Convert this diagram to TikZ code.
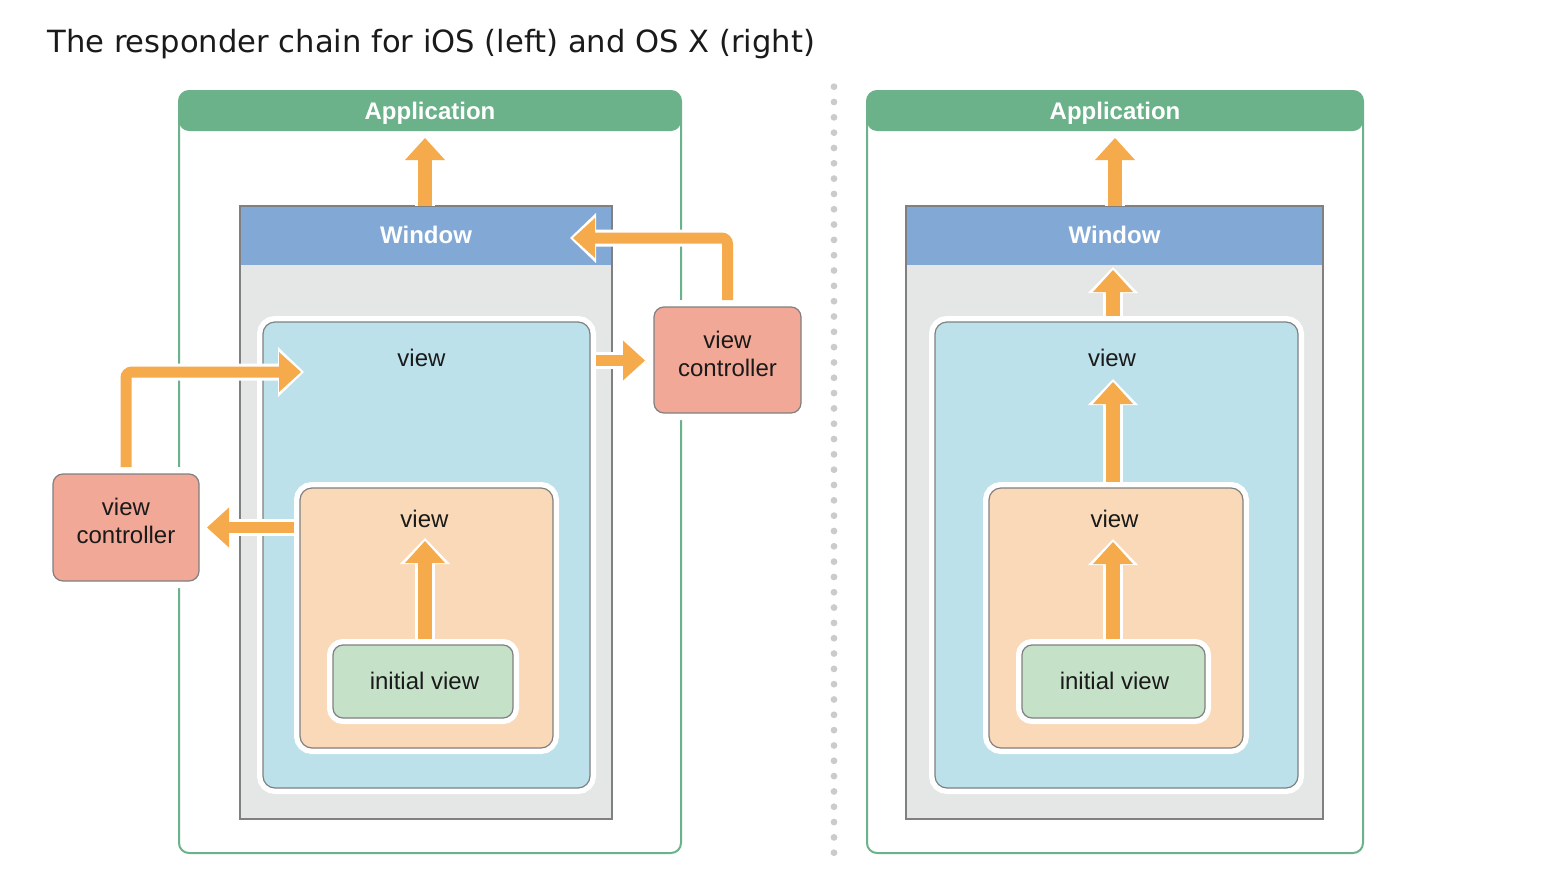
\documentclass[tikz,border=0pt]{standalone}
\usepackage{fontspec}
\setmainfont{Liberation Sans}
\newfontfamily\headfont{DejaVu Sans}
\usetikzlibrary{arrows.meta,fit}

\definecolor{appgreen}{HTML}{6BB28A}
\definecolor{winblue}{HTML}{82A9D6}
\definecolor{wingray}{HTML}{E5E6E6}
\definecolor{edgegray}{HTML}{808080}
\definecolor{viewblue}{HTML}{BCE1EB}
\definecolor{vieworange}{HTML}{FAD9B8}
\definecolor{initgreen}{HTML}{C5E2C9}
\definecolor{ctrlred}{HTML}{F2A896}
\definecolor{floworange}{HTML}{F5AA4B}
\definecolor{dotgray}{HTML}{CBCBCB}
\definecolor{ink}{HTML}{1A1A1A}

\tikzset{
  frame/.style={inner sep=0pt, outer sep=0pt},
  appbox/.style={frame, draw=appgreen, line width=1pt, rounded corners=5pt,
    path picture={\fill[appgreen] (path picture bounding box.north west)
      rectangle ([yshift=-20pt]path picture bounding box.north east);}},
  winbox/.style={frame, fill=wingray, draw=edgegray, line width=1pt,
    path picture={\fill[winblue] (path picture bounding box.north west)
      rectangle ([yshift=-29.5pt]path picture bounding box.north east);}},
  viewbox/.style={frame, draw=edgegray, line width=0.6pt, rounded corners=6pt,
    preaction={draw=white, line width=6pt}},
  ctrlbox/.style={frame, fill=ctrlred, draw=edgegray, line width=0.6pt,
    rounded corners=5pt, preaction={draw=white, line width=7pt}},
  lbl/.style={inner sep=0pt, text=ink, font=\fontsize{12}{14}\selectfont},
  bandlbl/.style={inner sep=0pt, anchor=base, text=white,
    font=\bfseries\fontsize{12}{14}\selectfont},
  flow/.style={preaction={draw=white, line width=10pt, shorten >=-1.5pt,
      -{Triangle[width=25pt,length=13pt,line width=0pt]}},
    draw=floworange, line width=7pt,
    -{Triangle[width=20pt,length=11pt,line width=0pt]}},
  flowthin/.style={preaction={draw=white, line width=8.5pt, shorten >=-1.5pt,
      -{Triangle[width=25pt,length=13pt,line width=0pt]}},
    draw=floworange, line width=5.5pt,
    -{Triangle[width=20pt,length=11pt,line width=0pt]}},
}

\begin{document}
\begin{tikzpicture}[x=0.5pt, y=-0.5pt]
  \useasboundingbox (0,0) rectangle (1544,884);

  \node[anchor=base west, inner sep=0pt, text=ink,
        font=\headfont\fontsize{15.3}{18}\selectfont] (title) at (47,52)
        {The responder chain for iOS (left) and OS X (right)};

  % iOS
  \node[appbox, fit={(179,91) (681,853)}] (appL) {};
  \node[bandlbl] (appLtxt) at (430,119) {Application};
  \node[winbox, fit={(240,206) (612,819)}] (winL) {};
  \node[bandlbl] (winLtxt) at (426,243) {Window};
  \node[viewbox, fill=viewblue, fit={(263,322) (590,788)}] (viewL) {};
  \node[lbl, anchor=base] (viewLtxt) at (421.5,366) {view};
  \node[viewbox, fill=vieworange, fit={(300,488) (553,748)}] (viewOL) {};
  \node[lbl, anchor=base] (viewOLtxt) at (424.5,527) {view};
  \node[viewbox, fill=initgreen, rounded corners=5pt,
        fit={(333,645) (513,718)}] (initL) {};
  \node[lbl, anchor=base] (initLtxt) at (424.5,689) {initial view};

  % view controllers
  \node[ctrlbox, fit={(654,307) (801,413)}] (vcR) {};
  \node[lbl, align=center] (vcRtxt) at (727.5,353.5) {view\\controller};
  \node[ctrlbox, fit={(53,474) (199,581)}] (vcL) {};
  \node[lbl, align=center] (vcLtxt) at (126,520.5) {view\\controller};

  % OS X
  \node[appbox, fit={(867,91) (1363,853)}] (appR) {};
  \node[bandlbl] (appRtxt) at (1115,119) {Application};
  \node[winbox, fit={(906,206) (1323,819)}] (winR) {};
  \node[bandlbl] (winRtxt) at (1114.5,243) {Window};
  \node[viewbox, fill=viewblue, fit={(935,322) (1298,788)}] (viewR) {};
  \node[lbl, anchor=base] (viewRtxt) at (1112,366) {view};
  \node[viewbox, fill=vieworange, fit={(989,488) (1243,748)}] (viewOR) {};
  \node[lbl, anchor=base] (viewORtxt) at (1114.5,527) {view};
  \node[viewbox, fill=initgreen, rounded corners=5pt,
        fit={(1022,645) (1205,718)}] (initR) {};
  \node[lbl, anchor=base] (initRtxt) at (1114.5,689) {initial view};

  % separator
  \foreach \k in {0,...,50}
    \fill[dotgray] (834,86.7+15.32*\k) circle (1.7pt);

  % arrow tips
  \coordinate (tAppL) at (425,138);
  \coordinate (tWinL) at (573,238);
  \coordinate (tViewL) at (301,372);
  \coordinate (tOrL) at (425,541);
  \coordinate (tCtrlR) at (645,360.5);
  \coordinate (tCtrlL) at (207,527.5);
  \coordinate (tAppR) at (1115,138);
  \coordinate (tWinR) at (1113,270);
  \coordinate (tViewR) at (1113,382);
  \coordinate (tOrR) at (1113,542);

  % iOS chain
  \draw[flow, shorten <=3pt] (initL.north -| tOrL) -- (tOrL);
  \draw[flowthin, shorten <=3pt] (viewOL.west |- tCtrlL) -- (tCtrlL);
  \draw[flowthin, rounded corners=3pt, shorten <=3.5pt] (vcL.north) |- (tViewL);
  \draw[flowthin, shorten <=3pt] (viewL.east |- tCtrlR) -- (tCtrlR);
  \draw[flowthin, rounded corners=3pt, shorten <=3.5pt] (vcR.north) |- (tWinL);
  \draw[flow] (winL.north -| tAppL) -- (tAppL);

  % OS X chain
  \draw[flow, shorten <=3pt] (initR.north -| tOrR) -- (tOrR);
  \draw[flow, shorten <=3pt] (viewOR.north -| tViewR) -- (tViewR);
  \draw[flow, shorten <=3pt] (viewR.north -| tWinR) -- (tWinR);
  \draw[flow] (winR.north -| tAppR) -- (tAppR);
\end{tikzpicture}
\end{document}
